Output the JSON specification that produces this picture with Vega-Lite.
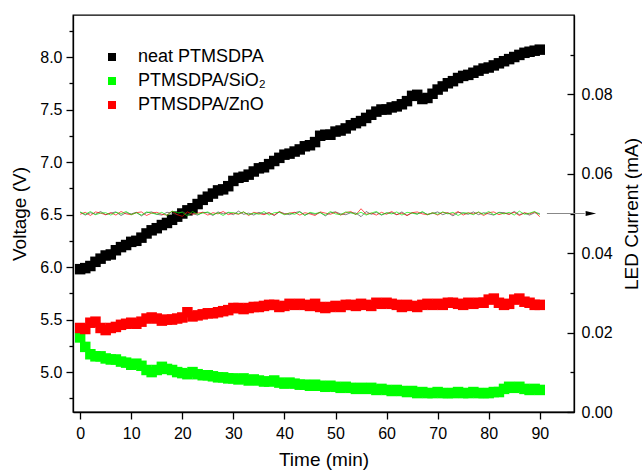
{
  "$schema": "https://vega.github.io/schema/vega-lite/v6.json",
  "width": 501,
  "height": 397,
  "autosize": {"type": "none"},
  "padding": {"left": 73, "top": 15, "right": 68, "bottom": 63},
  "background": "white",
  "config": {
    "view": {"stroke": "black", "strokeWidth": 1.3},
    "font": "Liberation Sans",
    "axis": {"domainColor": "black", "domainWidth": 1.3, "tickColor": "black", "tickWidth": 1.3, "labelFont": "Liberation Sans", "labelFontSize": 16, "labelColor": "black", "titleFont": "Liberation Sans", "titleFontSize": 19, "titleFontWeight": "normal", "titleColor": "black", "grid": false, "labelOverlap": false, "labelFlush": false}
  },
  "data": {"values": [
    {"t":0,"neat":5.98,"sio2":5.33,"zno":5.42,"ib":0.0503,"ig":0.0504,"ir":0.0498},
    {"t":1,"neat":5.99,"sio2":5.24,"zno":5.41,"ib":0.0496,"ig":0.0498,"ir":0.0503},
    {"t":2,"neat":6.01,"sio2":5.17,"zno":5.47,"ib":0.0502,"ig":0.0505,"ir":0.0495},
    {"t":3,"neat":6.05,"sio2":5.15,"zno":5.48,"ib":0.0498,"ig":0.0497,"ir":0.0504},
    {"t":4,"neat":6.08,"sio2":5.15,"zno":5.42,"ib":0.0505,"ig":0.0501,"ir":0.0501},
    {"t":5,"neat":6.11,"sio2":5.13,"zno":5.40,"ib":0.0497,"ig":0.0502,"ir":0.0497},
    {"t":6,"neat":6.12,"sio2":5.12,"zno":5.42,"ib":0.0501,"ig":0.0496,"ir":0.0502},
    {"t":7,"neat":6.16,"sio2":5.12,"zno":5.43,"ib":0.0504,"ig":0.0503,"ir":0.0496},
    {"t":8,"neat":6.19,"sio2":5.10,"zno":5.45,"ib":0.0495,"ig":0.0499,"ir":0.0505},
    {"t":9,"neat":6.21,"sio2":5.09,"zno":5.46,"ib":0.0502,"ig":0.0505,"ir":0.0499},
    {"t":10,"neat":6.24,"sio2":5.07,"zno":5.47,"ib":0.0499,"ig":0.0497,"ir":0.0497},
    {"t":11,"neat":6.25,"sio2":5.08,"zno":5.46,"ib":0.0503,"ig":0.0502,"ir":0.0502},
    {"t":12,"neat":6.28,"sio2":5.06,"zno":5.48,"ib":0.0494,"ig":0.0496,"ir":0.0504},
    {"t":13,"neat":6.32,"sio2":5.02,"zno":5.51,"ib":0.0502,"ig":0.0504,"ir":0.0495},
    {"t":14,"neat":6.35,"sio2":5.00,"zno":5.52,"ib":0.0504,"ig":0.0501,"ir":0.0501},
    {"t":15,"neat":6.37,"sio2":5.02,"zno":5.51,"ib":0.0498,"ig":0.0498,"ir":0.0503},
    {"t":16,"neat":6.40,"sio2":5.05,"zno":5.49,"ib":0.0496,"ig":0.0503,"ir":0.0498},
    {"t":17,"neat":6.42,"sio2":5.03,"zno":5.50,"ib":0.0503,"ig":0.0495,"ir":0.0496},
    {"t":18,"neat":6.45,"sio2":5.02,"zno":5.50,"ib":0.0501,"ig":0.0506,"ir":0.0506},
    {"t":19,"neat":6.48,"sio2":5.00,"zno":5.51,"ib":0.0497,"ig":0.0502,"ir":0.0497},
    {"t":20,"neat":6.51,"sio2":4.99,"zno":5.52,"ib":0.0505,"ig":0.0503,"ir":0.0493},
    {"t":21,"neat":6.54,"sio2":4.98,"zno":5.57,"ib":0.0498,"ig":0.0494,"ir":0.0504},
    {"t":22,"neat":6.56,"sio2":5.00,"zno":5.53,"ib":0.0500,"ig":0.0505,"ir":0.0498},
    {"t":23,"neat":6.60,"sio2":4.98,"zno":5.54,"ib":0.0496,"ig":0.0498,"ir":0.0501},
    {"t":24,"neat":6.64,"sio2":4.97,"zno":5.55,"ib":0.0503,"ig":0.0501,"ir":0.0503},
    {"t":25,"neat":6.67,"sio2":4.97,"zno":5.56,"ib":0.0502,"ig":0.0504,"ir":0.0496},
    {"t":26,"neat":6.70,"sio2":4.96,"zno":5.56,"ib":0.0495,"ig":0.0497,"ir":0.0502},
    {"t":27,"neat":6.73,"sio2":4.95,"zno":5.57,"ib":0.0504,"ig":0.0502,"ir":0.0499},
    {"t":28,"neat":6.74,"sio2":4.95,"zno":5.58,"ib":0.0499,"ig":0.0495,"ir":0.0505},
    {"t":29,"neat":6.77,"sio2":4.94,"zno":5.59,"ib":0.0502,"ig":0.0503,"ir":0.0497},
    {"t":30,"neat":6.82,"sio2":4.94,"zno":5.61,"ib":0.0497,"ig":0.0502,"ir":0.0501},
    {"t":31,"neat":6.85,"sio2":4.93,"zno":5.61,"ib":0.0506,"ig":0.0499,"ir":0.0498},
    {"t":32,"neat":6.86,"sio2":4.94,"zno":5.60,"ib":0.0498,"ig":0.0504,"ir":0.0504},
    {"t":33,"neat":6.88,"sio2":4.92,"zno":5.61,"ib":0.0501,"ig":0.0497,"ir":0.0495},
    {"t":34,"neat":6.91,"sio2":4.93,"zno":5.62,"ib":0.0496,"ig":0.0501,"ir":0.0503},
    {"t":35,"neat":6.94,"sio2":4.92,"zno":5.62,"ib":0.0503,"ig":0.0498,"ir":0.0500},
    {"t":36,"neat":6.95,"sio2":4.91,"zno":5.63,"ib":0.0499,"ig":0.0505,"ir":0.0497},
    {"t":37,"neat":6.98,"sio2":4.91,"zno":5.64,"ib":0.0502,"ig":0.0496,"ir":0.0502},
    {"t":38,"neat":7.01,"sio2":4.92,"zno":5.64,"ib":0.0495,"ig":0.0502,"ir":0.0496},
    {"t":39,"neat":7.04,"sio2":4.90,"zno":5.62,"ib":0.0504,"ig":0.0503,"ir":0.0505},
    {"t":40,"neat":7.07,"sio2":4.89,"zno":5.63,"ib":0.0500,"ig":0.0497,"ir":0.0498},
    {"t":41,"neat":7.08,"sio2":4.90,"zno":5.65,"ib":0.0497,"ig":0.0501,"ir":0.0501},
    {"t":42,"neat":7.10,"sio2":4.89,"zno":5.64,"ib":0.0502,"ig":0.0498,"ir":0.0503},
    {"t":43,"neat":7.12,"sio2":4.88,"zno":5.65,"ib":0.0505,"ig":0.0504,"ir":0.0496},
    {"t":44,"neat":7.15,"sio2":4.88,"zno":5.64,"ib":0.0496,"ig":0.0495,"ir":0.0502},
    {"t":45,"neat":7.16,"sio2":4.87,"zno":5.63,"ib":0.0501,"ig":0.0503,"ir":0.0499},
    {"t":46,"neat":7.19,"sio2":4.88,"zno":5.65,"ib":0.0498,"ig":0.0500,"ir":0.0495},
    {"t":47,"neat":7.25,"sio2":4.87,"zno":5.62,"ib":0.0503,"ig":0.0502,"ir":0.0504},
    {"t":48,"neat":7.26,"sio2":4.86,"zno":5.61,"ib":0.0494,"ig":0.0496,"ir":0.0501},
    {"t":49,"neat":7.26,"sio2":4.87,"zno":5.62,"ib":0.0502,"ig":0.0505,"ir":0.0498},
    {"t":50,"neat":7.29,"sio2":4.86,"zno":5.63,"ib":0.0504,"ig":0.0499,"ir":0.0503},
    {"t":51,"neat":7.30,"sio2":4.85,"zno":5.62,"ib":0.0499,"ig":0.0497,"ir":0.0496},
    {"t":52,"neat":7.32,"sio2":4.86,"zno":5.64,"ib":0.0497,"ig":0.0504,"ir":0.0502},
    {"t":53,"neat":7.35,"sio2":4.85,"zno":5.64,"ib":0.0502,"ig":0.0502,"ir":0.0505},
    {"t":54,"neat":7.37,"sio2":4.84,"zno":5.63,"ib":0.0501,"ig":0.0498,"ir":0.0497},
    {"t":55,"neat":7.39,"sio2":4.85,"zno":5.65,"ib":0.0492,"ig":0.0503,"ir":0.0512},
    {"t":56,"neat":7.42,"sio2":4.84,"zno":5.64,"ib":0.0505,"ig":0.0496,"ir":0.0498},
    {"t":57,"neat":7.45,"sio2":4.85,"zno":5.63,"ib":0.0498,"ig":0.0501,"ir":0.0501},
    {"t":58,"neat":7.48,"sio2":4.83,"zno":5.66,"ib":0.0503,"ig":0.0505,"ir":0.0496},
    {"t":59,"neat":7.50,"sio2":4.84,"zno":5.65,"ib":0.0496,"ig":0.0497,"ir":0.0503},
    {"t":60,"neat":7.50,"sio2":4.83,"zno":5.66,"ib":0.0501,"ig":0.0502,"ir":0.0498},
    {"t":61,"neat":7.52,"sio2":4.82,"zno":5.65,"ib":0.0502,"ig":0.0499,"ir":0.0505},
    {"t":62,"neat":7.53,"sio2":4.83,"zno":5.64,"ib":0.0497,"ig":0.0504,"ir":0.0497},
    {"t":63,"neat":7.55,"sio2":4.82,"zno":5.62,"ib":0.0504,"ig":0.0496,"ir":0.0501},
    {"t":64,"neat":7.58,"sio2":4.81,"zno":5.64,"ib":0.0495,"ig":0.0503,"ir":0.0495},
    {"t":65,"neat":7.63,"sio2":4.82,"zno":5.63,"ib":0.0502,"ig":0.0501,"ir":0.0502},
    {"t":66,"neat":7.64,"sio2":4.80,"zno":5.62,"ib":0.0499,"ig":0.0498,"ir":0.0504},
    {"t":67,"neat":7.60,"sio2":4.81,"zno":5.64,"ib":0.0503,"ig":0.0505,"ir":0.0499},
    {"t":68,"neat":7.61,"sio2":4.80,"zno":5.65,"ib":0.0498,"ig":0.0497,"ir":0.0497},
    {"t":69,"neat":7.65,"sio2":4.80,"zno":5.64,"ib":0.0500,"ig":0.0502,"ir":0.0502},
    {"t":70,"neat":7.69,"sio2":4.81,"zno":5.65,"ib":0.0504,"ig":0.0498,"ir":0.0496},
    {"t":71,"neat":7.72,"sio2":4.80,"zno":5.64,"ib":0.0497,"ig":0.0504,"ir":0.0503},
    {"t":72,"neat":7.75,"sio2":4.80,"zno":5.66,"ib":0.0502,"ig":0.0499,"ir":0.0501},
    {"t":73,"neat":7.77,"sio2":4.80,"zno":5.66,"ib":0.0494,"ig":0.0503,"ir":0.0498},
    {"t":74,"neat":7.80,"sio2":4.81,"zno":5.65,"ib":0.0503,"ig":0.0495,"ir":0.0505},
    {"t":75,"neat":7.82,"sio2":4.80,"zno":5.64,"ib":0.0501,"ig":0.0502,"ir":0.0496},
    {"t":76,"neat":7.83,"sio2":4.80,"zno":5.66,"ib":0.0498,"ig":0.0501,"ir":0.0502},
    {"t":77,"neat":7.85,"sio2":4.81,"zno":5.65,"ib":0.0504,"ig":0.0497,"ir":0.0499},
    {"t":78,"neat":7.87,"sio2":4.80,"zno":5.66,"ib":0.0497,"ig":0.0504,"ir":0.0503},
    {"t":79,"neat":7.89,"sio2":4.80,"zno":5.66,"ib":0.0502,"ig":0.0498,"ir":0.0495},
    {"t":80,"neat":7.90,"sio2":4.80,"zno":5.69,"ib":0.0499,"ig":0.0505,"ir":0.0502},
    {"t":81,"neat":7.92,"sio2":4.81,"zno":5.70,"ib":0.0496,"ig":0.0497,"ir":0.0504},
    {"t":82,"neat":7.94,"sio2":4.81,"zno":5.66,"ib":0.0503,"ig":0.0502,"ir":0.0497},
    {"t":83,"neat":7.96,"sio2":4.84,"zno":5.64,"ib":0.0502,"ig":0.0499,"ir":0.0501},
    {"t":84,"neat":7.98,"sio2":4.86,"zno":5.65,"ib":0.0498,"ig":0.0503,"ir":0.0498},
    {"t":85,"neat":8.00,"sio2":4.85,"zno":5.69,"ib":0.0505,"ig":0.0496,"ir":0.0503},
    {"t":86,"neat":8.02,"sio2":4.86,"zno":5.70,"ib":0.0497,"ig":0.0506,"ir":0.0495},
    {"t":87,"neat":8.04,"sio2":4.84,"zno":5.67,"ib":0.0501,"ig":0.0498,"ir":0.0502},
    {"t":88,"neat":8.05,"sio2":4.83,"zno":5.66,"ib":0.0496,"ig":0.0501,"ir":0.0499},
    {"t":89,"neat":8.06,"sio2":4.84,"zno":5.64,"ib":0.0502,"ig":0.0505,"ir":0.0504},
    {"t":90,"neat":8.07,"sio2":4.83,"zno":5.64,"ib":0.0500,"ig":0.0497,"ir":0.0492}
  ]},
  "layer": [
    {
      "transform": [{"fold": ["neat", "sio2", "zno"], "as": ["series", "V"]}],
      "mark": {"type": "square", "size": 110, "opacity": 1, "filled": true},
      "encoding": {
        "x": {"field": "t", "type": "quantitative", "scale": {"domain": [-1.4, 96.7], "nice": false, "zero": false},
          "axis": {"title": "Time (min)", "values": [0,5,10,15,20,25,30,35,40,45,50,55,60,65,70,75,80,85,90,95],
            "tickSize": {"condition": {"test": "datum.value % 10 === 0", "value": 7}, "value": 4},
            "labelExpr": "datum.value % 10 === 0 ? datum.label : ''", "labelPadding": 6, "titlePadding": 9}},
        "y": {"field": "V", "type": "quantitative", "scale": {"domain": [4.62, 8.4], "nice": false, "zero": false},
          "axis": {"title": "Voltage (V)", "values": [4.75,5,5.25,5.5,5.75,6,6.25,6.5,6.75,7,7.25,7.5,7.75,8,8.25],
            "tickSize": {"condition": {"test": "(datum.value * 2) % 1 === 0", "value": 7}, "value": 4},
            "labelExpr": "(datum.value * 2) % 1 === 0 ? format(datum.value, '.1f') : ''", "labelPadding": 4, "titlePadding": 10}},
        "color": {"field": "series", "type": "nominal",
          "scale": {"domain": ["neat", "sio2", "zno"], "range": ["#000000", "#00FF00", "#FF0000"]},
          "legend": {"orient": "none", "legendX": 30, "legendY": 33, "title": null, "symbolType": "square", "symbolSize": 64,
            "labelFontSize": 18, "labelFont": "Liberation Sans", "labelColor": "black", "labelOffset": 17, "rowPadding": 6, "padding": 0,
            "symbolStrokeWidth": 0, "symbolOpacity": 1,
            "labelExpr": "datum.label == 'neat' ? 'neat PTMSDPA' : datum.label == 'sio2' ? 'PTMSDPA/SiO₂' : 'PTMSDPA/ZnO'"}}
      }
    },
    {
      "encoding": {
        "x": {"field": "t", "type": "quantitative", "scale": {"domain": [-1.4, 96.7], "nice": false, "zero": false}},
        "y": {"field": "I", "type": "quantitative", "scale": {"domain": [0, 0.1], "nice": false, "zero": false},
          "axis": {"orient": "right", "title": "LED Current (mA)", "values": [0,0.01,0.02,0.03,0.04,0.05,0.06,0.07,0.08,0.09],
            "tickSize": {"condition": {"test": "round(datum.value * 100) % 2 === 0", "value": -7}, "value": -4},
            "labelExpr": "round(datum.value * 100) % 2 === 0 ? format(datum.value, '.2f') : ''", "labelPadding": 14,
            "titleAngle": 270, "titleBaseline": "top", "titlePadding": 10}}
      },
      "layer": [
        {
          "transform": [{"fold": ["ib", "ir", "ig"], "as": ["cs", "I"]}],
          "mark": {"type": "line", "strokeWidth": 0.8, "opacity": 0.85},
          "encoding": {
            "color": {"field": "cs", "type": "nominal", "scale": {"domain": ["ib", "ir", "ig"], "range": ["#444444", "#FF0000", "#00EE00"]}, "legend": null}
          }
        },
        {
          "data": {"values": [{"t": 91.4, "t2": 98.8, "I": 0.05}]},
          "mark": {"type": "rule", "color": "#888888", "strokeWidth": 1, "clip": false},
          "encoding": {"x2": {"field": "t2"}}
        },
        {
          "data": {"values": [{"t": 100, "I": 0.05}]},
          "mark": {"type": "point", "shape": "M-1,-0.5L1,0L-1,0.5Z", "filled": true, "color": "black", "size": 110, "opacity": 1, "clip": false},
          "encoding": {}
        }
      ]
    }
  ],
  "resolve": {"scale": {"y": "independent", "color": "independent"}}
}
